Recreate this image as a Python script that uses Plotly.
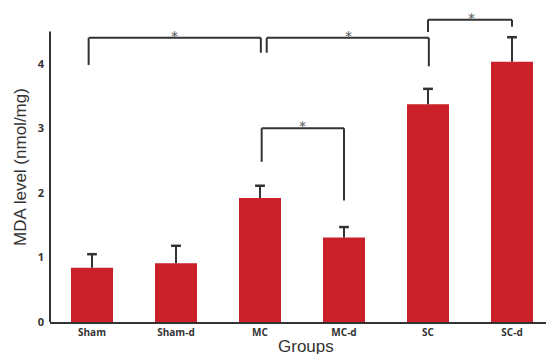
import plotly.graph_objects as go

groups = ["Sham", "Sham-d", "MC", "MC-d", "SC", "SC-d"]
mda_mean = [0.84, 0.91, 1.92, 1.31, 3.37, 4.03]
mda_err = [0.21, 0.27, 0.19, 0.16, 0.24, 0.38]

# significance brackets: (left x, right x, top y, left leg bottom, right leg bottom, star x)
brackets = [
    (-0.04, 2.01, 4.40, 3.98, 4.17, 0.98),
    (2.08, 4.01, 4.40, 4.17, 3.96, 3.05),
    (4.00, 5.00, 4.68, 4.49, 4.57, 4.52),
    (2.02, 3.00, 3.00, 2.48, 1.88, 2.51),
]

YMAX = 4.8
AXTOP = 4.5
BAR = "#C9202A"
INK = "#333333"

xs_idx = list(range(len(groups)))
tops = [m + e for m, e in zip(mda_mean, mda_err)]

fig = go.Figure()
fig.add_trace(go.Bar(
    x=xs_idx, y=mda_mean, width=0.5,
    marker=dict(color=BAR, line=dict(width=0)),
))
# upper error bar stems (no caps)
fig.add_trace(go.Scatter(
    x=xs_idx, y=mda_mean, mode="markers", marker=dict(size=0.1, color="rgba(0,0,0,0)"),
    error_y=dict(type="data", symmetric=False, array=mda_err,
                 arrayminus=[0] * len(groups), color=INK, thickness=2, width=0),
    hoverinfo="skip",
))
# caps on top
fig.add_trace(go.Scatter(
    x=xs_idx, y=tops, mode="markers",
    marker=dict(symbol="line-ew", size=7, line=dict(color=INK, width=2.5)),
    hoverinfo="skip",
))

shapes = []
annotations = []
for xl, xr, yt, ybl, ybr, xs in brackets:
    line = dict(color=INK, width=2)
    shapes.append(dict(type="line", xref="x", yref="y", x0=xl, x1=xl, y0=ybl, y1=yt, line=line))
    shapes.append(dict(type="line", xref="x", yref="y", x0=xl, x1=xr, y0=yt, y1=yt, line=line))
    shapes.append(dict(type="line", xref="x", yref="y", x0=xr, x1=xr, y0=yt, y1=ybr, line=line))
    annotations.append(dict(x=xs, y=yt, xref="x", yref="y", text="*", showarrow=False,
                            yanchor="bottom", yshift=-8,
                            font=dict(family="DejaVu Sans", size=14, color="#555555")))

# x axis title placed as annotation
annotations.append(dict(x=0.508, y=0, xref="paper", yref="paper", text="Groups", showarrow=False,
                        xanchor="center", yanchor="top", yshift=-12.5,
                        font=dict(family="Liberation Sans", size=17, color=INK)))

# y axis line up to 4.5
shapes.append(dict(type="line", xref="paper", yref="paper", x0=0, x1=0, y0=0, y1=AXTOP / YMAX,
                   line=dict(color=INK, width=2)))

fig.update_layout(
    width=546, height=346,
    margin=dict(l=42, r=0, t=4, b=32),
    paper_bgcolor="white", plot_bgcolor="white",
    showlegend=False,
    shapes=shapes, annotations=annotations,
    xaxis=dict(
        range=[-0.5, 5.5], tickmode="array", tickvals=xs_idx, ticktext=groups,
        showline=True, linecolor=INK, linewidth=2, showgrid=False, zeroline=False, ticks="",
        automargin=False,
        tickfont=dict(family="Open Sans", size=10, color=INK, weight="bold"),
    ),
    yaxis=dict(
        range=[0, YMAX], tickvals=[0, 1, 2, 3, 4], showline=False, showgrid=False, zeroline=False,
        ticks="", ticklabelstandoff=5, automargin=False,
        tickfont=dict(family="Open Sans", size=11, color=INK, weight="bold"),
        title=dict(text="MDA level (nmol/mg)", font=dict(family="Liberation Sans", size=17, color=INK), standoff=6),
    ),
)

fig.write_html("out.html")
